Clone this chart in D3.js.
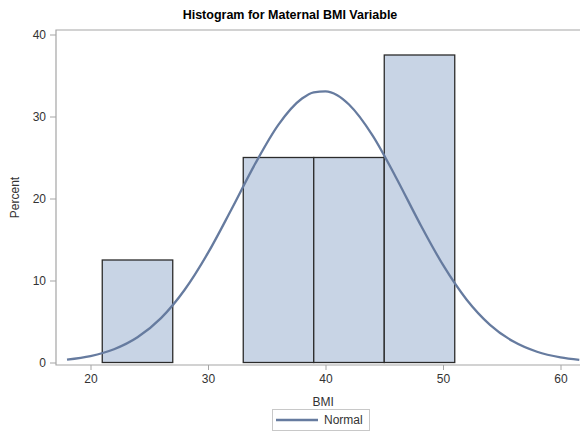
<!DOCTYPE html>
<html>
<head>
<meta charset="utf-8">
<script src="https://cdn.jsdelivr.net/npm/d3@7"></script>
<style>
  body { margin: 0; background: #fff; }
  svg { display: block; font-family: "Liberation Sans", Arial, sans-serif; }
</style>
</head>
<body>
<div id="chart"></div>
<script>
// Datos
const binStarts = [21, 27, 33, 39, 45];
const binWidth = 6;
const binPercent = [12.5, 0, 25, 25, 37.5];

// Curva normal
const normalX = [18, 20, 22, 24, 26, 28, 30, 32, 34, 36, 38, 39, 40, 41, 42, 44, 46, 48, 50, 52, 54, 56, 58, 60, 61.6];
const normalY = [0.35, 0.78, 1.61, 3.07, 5.41, 8.84, 13.36, 18.69, 24.2, 29.01, 32.19, 32.95, 33.07, 32.6, 31.46, 27.7, 22.57, 17.03, 11.9, 7.69, 4.6, 2.55, 1.31, 0.62, 0.32];

const xTicks = [20, 30, 40, 50, 60];
const yTicks = [0, 10, 20, 30, 40];

const COLOR_BAR = '#c8d4e5',
  COLOR_BAR_LINE = '#2b2b2b',
  COLOR_CURVE = '#667b9f',
  COLOR_AXIS = '#a5a5a5',
  COLOR_TEXT = '#333';

const W = 580, H = 436;
const frame = { left: 56, right: 580, top: 30, bottom: 365 };

const svg = d3.select('#chart').append('svg')
  .attr('width', W)
  .attr('height', H);

// Escalas
const x = d3.scaleLinear().domain([20, 60]).range([90.5, 560.5]);
const y = d3.scaleLinear().domain([0, 40]).range([362.5, 34.5]);

// Barras
svg.append('g')
  .selectAll('rect')
  .data(binStarts)
  .join('rect')
    .attr('x', d => x(d))
    .attr('y', (d, i) => y(binPercent[i]))
    .attr('width', d => x(d + binWidth) - x(d))
    .attr('height', (d, i) => y(0) - y(binPercent[i]))
    .attr('fill', (d, i) => binPercent[i] > 0 ? COLOR_BAR : 'none')
    .attr('stroke', COLOR_BAR_LINE)
    .attr('stroke-width', 1.3);

// Curva normal
const line = d3.line()
  .x((d, i) => x(normalX[i]))
  .y(d => y(d))
  .curve(d3.curveMonotoneX);

svg.append('path')
  .datum(normalY)
  .attr('d', line)
  .attr('fill', 'none')
  .attr('stroke', COLOR_CURVE)
  .attr('stroke-width', 2.3);

// Marco
svg.append('path')
  .attr('d', `M${frame.right},${frame.top}H${frame.left}V${frame.bottom}H${frame.right}`)
  .attr('fill', 'none')
  .attr('stroke', COLOR_AXIS)
  .attr('stroke-width', 1.2);

// Eje X
const xAxis = svg.append('g')
  .attr('transform', `translate(0,${frame.bottom})`)
  .call(d3.axisBottom(x).tickValues(xTicks).tickSize(5).tickPadding(4));
xAxis.select('.domain').remove();

// Eje Y
const yAxis = svg.append('g')
  .attr('transform', `translate(${frame.left},0)`)
  .call(d3.axisLeft(y).tickValues(yTicks).tickSize(6).tickPadding(4));
yAxis.select('.domain').remove();

svg.selectAll('.tick line').attr('stroke', COLOR_AXIS);
svg.selectAll('.tick text')
  .attr('fill', COLOR_TEXT)
  .style('font-size', '12px')
  .style('font-family', '"Liberation Sans", Arial, sans-serif');

// Títulos
svg.append('text')
  .attr('x', 290)
  .attr('y', 19)
  .attr('text-anchor', 'middle')
  .style('font-size', '12.5px')
  .style('font-weight', 'bold')
  .attr('fill', '#000')
  .text('Histogram for Maternal BMI Variable');

svg.append('text')
  .attr('x', x(39.8))
  .attr('y', 406)
  .attr('text-anchor', 'middle')
  .style('font-size', '12px')
  .attr('fill', COLOR_TEXT)
  .text('BMI');

svg.append('text')
  .attr('transform', `translate(19,${(frame.top + frame.bottom) / 2}) rotate(-90)`)
  .attr('text-anchor', 'middle')
  .style('font-size', '12px')
  .attr('fill', COLOR_TEXT)
  .text('Percent');

// Leyenda
const legend = svg.append('g');
legend.append('rect')
  .attr('x', 272.5)
  .attr('y', 409.5)
  .attr('width', 97)
  .attr('height', 21)
  .attr('fill', '#fff')
  .attr('stroke', '#c8c8c8');
legend.append('line')
  .attr('x1', 276)
  .attr('x2', 318)
  .attr('y1', 420)
  .attr('y2', 420)
  .attr('stroke', COLOR_CURVE)
  .attr('stroke-width', 2.3);
legend.append('text')
  .attr('x', 324)
  .attr('y', 424)
  .style('font-size', '12px')
  .attr('fill', COLOR_TEXT)
  .text('Normal');
</script>
</body>
</html>
